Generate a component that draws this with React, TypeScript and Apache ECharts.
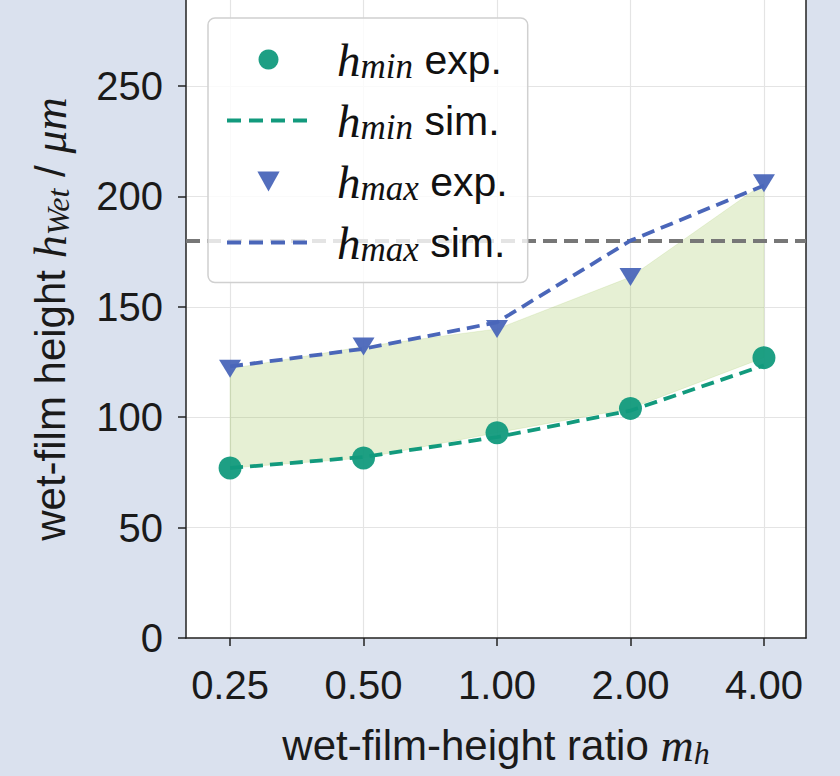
import React, { useEffect, useRef } from "react";
import * as echarts from "echarts";

const xPos = [0, 1, 2, 3, 4];
const xLabels = ["0.25", "0.50", "1.00", "2.00", "4.00"];
const hMinExp = [77, 81.5, 93, 104, 127];
const hMinSim = [77, 82, 91, 103, 123.5];
const hMaxExp = [122, 132, 140, 163.5, 206];
const hMaxSim = [123, 131, 143, 180, 205];
const threshold = 180;
const yTicks = [0, 50, 100, 150, 200, 250];

const TEAL = "#129a7d";
const BLUE = "#4a66b9";
const SERIF = "'Liberation Serif', 'DejaVu Serif', serif";
const SANS = "'Liberation Sans', Arial, sans-serif";
const TRI = "path://M0,0L20,0L10,18Z";

const pairs = (ys: number[]) => xPos.map((x, i) => [x, ys[i]]);

const legendRich = {
  h: { fontFamily: SERIF, fontStyle: "italic", fontSize: 47, lineHeight: 48, color: "#111", padding: [0, 0, 0, 22] },
  s: { fontFamily: SERIF, fontStyle: "italic", fontSize: 35, lineHeight: 26, verticalAlign: "bottom", color: "#111" },
  t: { fontFamily: SANS, fontSize: 41, lineHeight: 48, color: "#111" },
};

const titleRich = {
  a: { fontFamily: SANS, fontSize: 42, lineHeight: 48, color: "#1a1a1a" },
  m: { fontFamily: SERIF, fontStyle: "italic", fontSize: 46, lineHeight: 48, color: "#1a1a1a" },
  s: { fontFamily: SERIF, fontStyle: "italic", fontSize: 32, lineHeight: 26, verticalAlign: "bottom", color: "#1a1a1a" },
};

export default function App() {
  const ref = useRef<HTMLDivElement>(null);
  useEffect(() => {
    if (!ref.current) return;
    const chart = echarts.init(ref.current, null, { renderer: "svg" });
    const axisLine = { show: true, onZero: false, lineStyle: { color: "#222", width: 1.5 } };
    const dashLegend = { width: 4, type: [14, 8] };
    chart.setOption({
      animation: false,
      backgroundColor: "#dae1ee",
      grid: {
        left: 186,
        right: 34,
        top: 0,
        bottom: 138,
        show: true,
        backgroundColor: "#ffffff",
        borderWidth: 0,
      },
      legend: {
        z: 20,
        orient: "vertical",
        left: 208,
        top: 18,
        padding: [18, 20, 16, 17],
        itemWidth: 83,
        itemHeight: 20,
        itemGap: 13.5,
        backgroundColor: "rgba(255,255,255,0.8)",
        borderColor: "#d0d0d0",
        borderWidth: 1.5,
        borderRadius: 7,
        data: [
          { name: "hminexp", icon: "circle" },
          { name: "hminsim", itemStyle: { opacity: 0 }, lineStyle: dashLegend },
          { name: "hmaxexp", icon: TRI },
          { name: "hmaxsim", itemStyle: { opacity: 0 }, lineStyle: dashLegend },
        ],
        formatter: (name: string) => {
          const sub = name.startsWith("hmin") ? "min" : "max";
          const t = name.endsWith("exp") ? " exp." : " sim.";
          return `{h|h}{s|${sub}}{t|${t}}`;
        },
        textStyle: { rich: legendRich },
      },
      xAxis: {
        type: "value",
        min: -0.33,
        max: 4.315,
        axisLine,
        axisTick: { show: true, length: 8, customValues: xPos, lineStyle: { color: "#222", width: 1.5 } },
        axisLabel: {
          customValues: xPos,
          formatter: (v: number) => xLabels[Math.round(v)] ?? "",
          fontSize: 40,
          fontFamily: SANS,
          color: "#1a1a1a",
          margin: 27,
        },
        splitLine: { show: true, lineStyle: { color: "#e4e4e4", width: 1.2 } },
        name: "{a|wet-film-height ratio }{m|m}{s|h}",
        nameLocation: "middle",
        nameGap: 83,
        nameTextStyle: { rich: titleRich },
      },
      yAxis: [
        {
          type: "value",
          min: 0,
          max: 289,
          interval: 50,
          axisLine,
          axisTick: { show: true, length: 8, customValues: yTicks, lineStyle: { color: "#222", width: 1.5 } },
          axisLabel: {
            customValues: yTicks,
            fontSize: 40,
            fontFamily: SANS,
            color: "#1a1a1a",
            margin: 23,
          },
          splitLine: { show: true, lineStyle: { color: "#e4e4e4", width: 1.2 } },
          name: "{a|wet-film height }{m|h}{s|Wet}{a| / }{m|μm}",
          nameLocation: "middle",
          nameGap: 112,
          nameRotate: 90,
          nameTextStyle: { rich: titleRich },
        },
        {
          type: "value",
          position: "right",
          min: 0,
          max: 289,
          interval: 50,
          axisLine,
          axisTick: { show: false },
          axisLabel: { show: false },
          splitLine: { show: false },
        },
      ],
      series: [
        {
          name: "band",
          type: "custom",
          data: [0],
          silent: true,
          z: 1,
          renderItem: (_params: any, api: any) => {
            const upper = xPos.map((x, i) => api.coord([x, hMaxExp[i]]));
            const lower = xPos.map((x, i) => api.coord([x, hMinExp[i]])).reverse();
            return {
              type: "polygon",
              shape: { points: upper.concat(lower) },
              style: { fill: "rgba(140,185,60,0.22)", stroke: "rgba(140,185,60,0.15)", lineWidth: 1 },
            };
          },
        },
        {
          name: "threshold",
          type: "line",
          data: [],
          markLine: {
            z: 2,
            silent: true,
            symbol: "none",
            label: { show: false },
            lineStyle: { color: "#777777", type: [14, 7], width: 3.8 },
            data: [{ yAxis: threshold }],
          },
          z: 2,
        },
        {
          name: "hminsim",
          type: "line",
          data: pairs(hMinSim),
          symbol: "none",
          color: TEAL,
          lineStyle: { color: TEAL, type: [13, 7], width: 3.8 },
          z: 3,
        },
        {
          name: "hmaxsim",
          type: "line",
          data: pairs(hMaxSim),
          symbol: "none",
          color: BLUE,
          lineStyle: { color: BLUE, type: [13, 7], width: 3.8 },
          z: 3,
        },
        {
          name: "hminexp",
          type: "scatter",
          data: pairs(hMinExp),
          symbol: "circle",
          symbolSize: 23,
          itemStyle: { color: TEAL, opacity: 0.95 },
          z: 4,
        },
        {
          name: "hmaxexp",
          type: "scatter",
          data: pairs(hMaxExp),
          symbol: TRI,
          symbolKeepAspect: true,
          symbolSize: [22, 20],
          itemStyle: { color: BLUE, opacity: 0.95 },
          z: 4,
        },
      ],
    });
    return () => chart.dispose();
  }, []);
  return <div ref={ref} style={{ position: "fixed", left: 0, top: 0, width: 840, height: 776 }} />;
}
